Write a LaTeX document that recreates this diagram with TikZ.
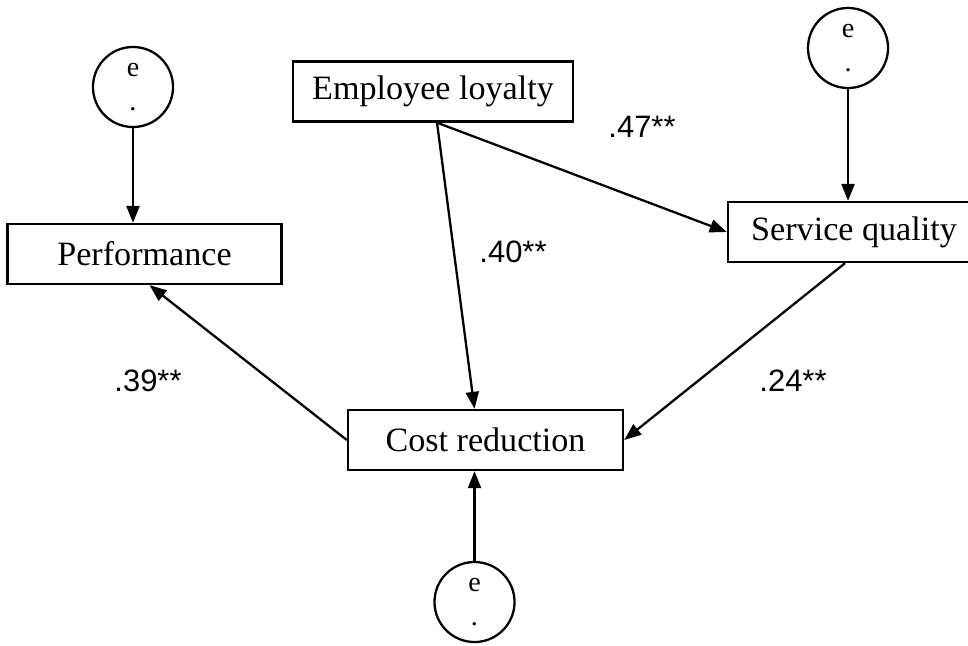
\documentclass[tikz,border=0pt]{standalone}
\usepackage{fontspec}
\setmainfont{Liberation Serif}
\newfontfamily\labelfont{Liberation Sans}
\usetikzlibrary{shapes,arrows.meta,positioning,calc}

\begin{document}
\begin{tikzpicture}[x=0.01cm, y=-0.01cm, line width=0.65pt,
    box/.style={rectangle, draw, minimum height=0.6cm, font=\fontsize{9.7}{11}\selectfont},
    err/.style={circle, draw, minimum size=0.8cm, inner sep=0pt, align=center, font=\fontsize{8}{9.5}\selectfont},
    coef/.style={font=\labelfont\fontsize{8.8}{10}\selectfont},
    path/.style={-{Triangle[length=0.17cm, width=0.13cm]}}]
    \useasboundingbox (0,0) rectangle (968,645);

    % Variables
    \node[box, minimum width=2.8cm] (loyal) at (433,91.5) {Employee loyalty};
    \node[box, minimum width=2.74cm] (perf) at (144.5,254) {Performance};
    \node[box, minimum width=2.52cm] (service) at (854,232) {Service quality};
    \node[box, minimum width=2.75cm] (cost) at (485.5,440) {Cost reduction};

    % Error terms
    \node[err] (ePerf) at (133,87) {e\\.};
    \node[err] (eService) at (848,48) {e\\.};
    \node[err] (eCost) at (474.5,602) {e\\.};

    % Paths
    \draw[path] ([xshift=0.04cm]loyal.south) -- (service.west);
    \draw[path] ([xshift=0.04cm]loyal.south) -- ([xshift=-0.11cm]cost.north);
    \draw[path] ([xshift=-0.09cm]service.south) -- (cost.east);
    \draw[path] (cost.west) -- ([xshift=0.05cm]perf.south);
    \draw[path] (ePerf.south) -- (ePerf.south |- perf.north);
    \draw[path] (eService.south) -- (eService.south |- service.north);
    \draw[path] (eCost.north) -- (eCost.north |- cost.south);

    % Coefficients
    \node[coef] (c47) at (642,127) {.47**};
    \node[coef] (c40) at (513,252) {.40**};
    \node[coef] (c39) at (148,381) {.39**};
    \node[coef] (c24) at (793,381) {.24**};
\end{tikzpicture}
\end{document}
